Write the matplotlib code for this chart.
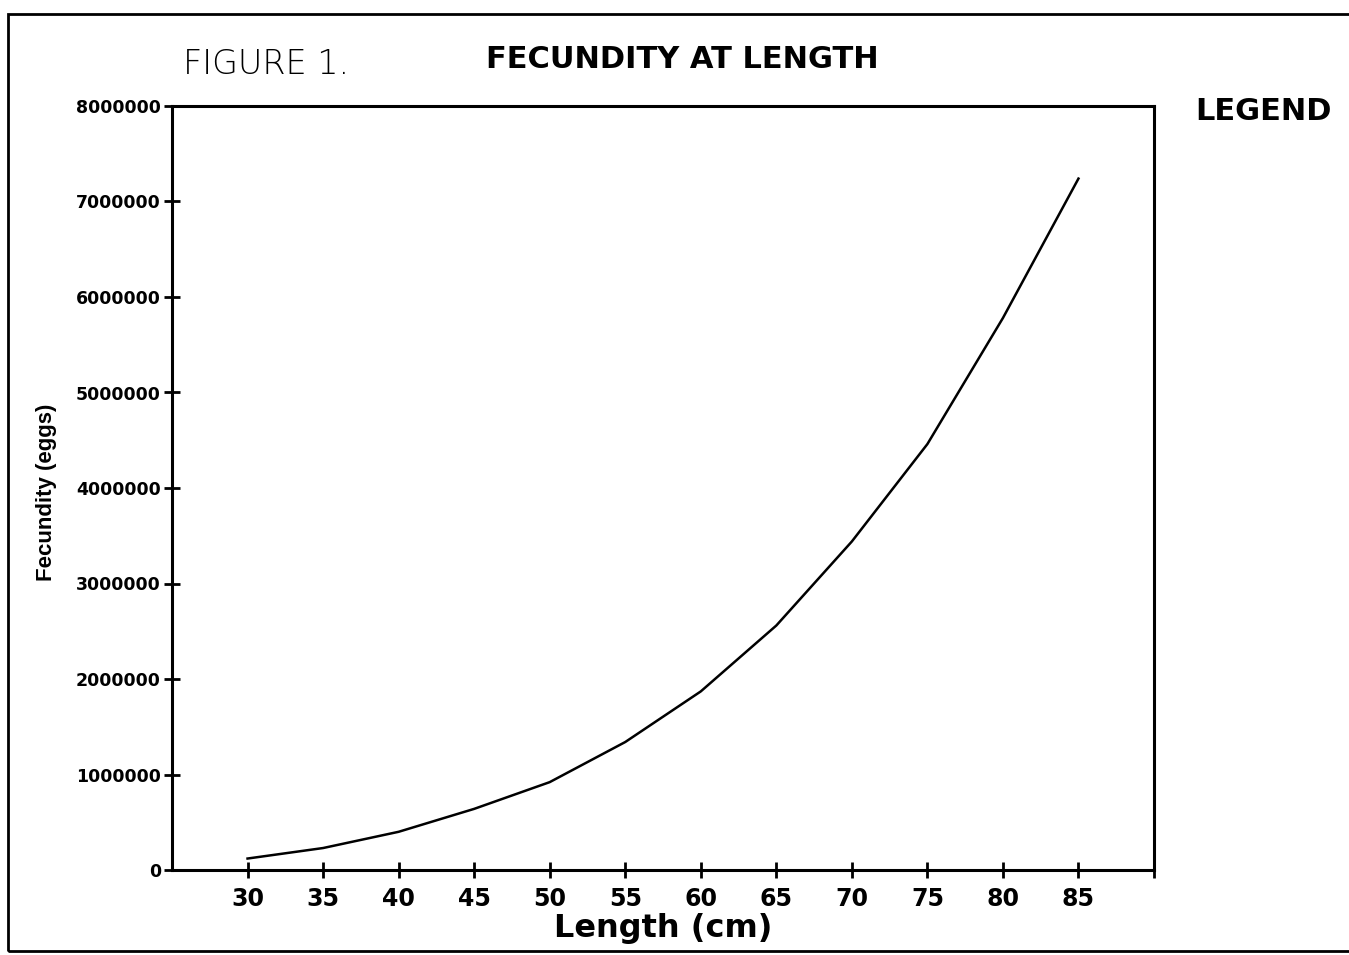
import matplotlib
matplotlib.use("Agg")
import matplotlib.pyplot as plt
from matplotlib.patches import Rectangle

length_cm = [30, 35, 40, 45, 50, 55, 60, 65, 70, 75, 80, 85]
fecundity = [120000, 230000, 400000, 640000, 920000, 1340000, 1870000,
             2560000, 3440000, 4460000, 5780000, 7240000]
x_ticks = [30, 35, 40, 45, 50, 55, 60, 65, 70, 75, 80, 85, 90]
x_tick_labels = ["30", "35", "40", "45", "50", "55", "60", "65", "70", "75", "80", "85", ""]
y_ticks = [0, 1000000, 2000000, 3000000, 4000000, 5000000, 6000000, 7000000, 8000000]
y_tick_labels = ["0", "1000000", "2000000", "3000000", "4000000", "5000000",
                 "6000000", "7000000", "8000000"]

fig = plt.figure(figsize=(13.49, 9.55), dpi=100)
fig.patch.set_facecolor("white")

# outer frame
fig.patches.append(Rectangle((8 / 1349, 4 / 955), 1.0, 937 / 955, transform=fig.transFigure,
                             fill=False, edgecolor="black", linewidth=2.0))

ax = fig.add_axes([172 / 1349, 85 / 955, (1154 - 172) / 1349, (870 - 106) / 955])
ax.plot(length_cm, fecundity, color="black", linewidth=1.8, solid_joinstyle="round")
ax.set_xlim(25, 90)
ax.set_ylim(0, 8000000)
ax.set_xticks(x_ticks)
ax.set_xticklabels(x_tick_labels, fontsize=17, fontweight="bold", family="DejaVu Sans")
ax.set_yticks(y_ticks)
ax.set_yticklabels(y_tick_labels, fontsize=12.5, fontweight="bold", family="DejaVu Sans")
ax.tick_params(axis="both", direction="inout", length=12, width=2, colors="black")
ax.tick_params(axis="x", pad=6)
ax.tick_params(axis="y", pad=2)
for s in ax.spines.values():
    s.set_linewidth(2.2)
    s.set_color("black")

ax.set_xlabel("Length (cm)", fontsize=23, fontweight="bold", family="DejaVu Sans", labelpad=2)
ax.set_ylabel("Fecundity (eggs)", fontsize=16, fontweight="bold",
              family=["Liberation Sans Narrow", "Liberation Sans", "DejaVu Sans"])
ax.yaxis.set_label_coords(-0.117, 0.495)

fig.text(183 / 1349, 1 - 64 / 955, "FIGURE 1.", fontsize=24, family="DejaVu Sans",
         ha="left", va="center", fontweight="light")
fig.text(682 / 1349, 1 - 60 / 955, "FECUNDITY AT LENGTH", fontsize=22, fontweight="bold",
         family="DejaVu Sans", ha="center", va="center")
fig.text(1263 / 1349, 1 - 112 / 955, "LEGEND", fontsize=22, fontweight="bold",
         family="DejaVu Sans", ha="center", va="center")

fig.savefig("out.png", dpi=100, facecolor="white")
